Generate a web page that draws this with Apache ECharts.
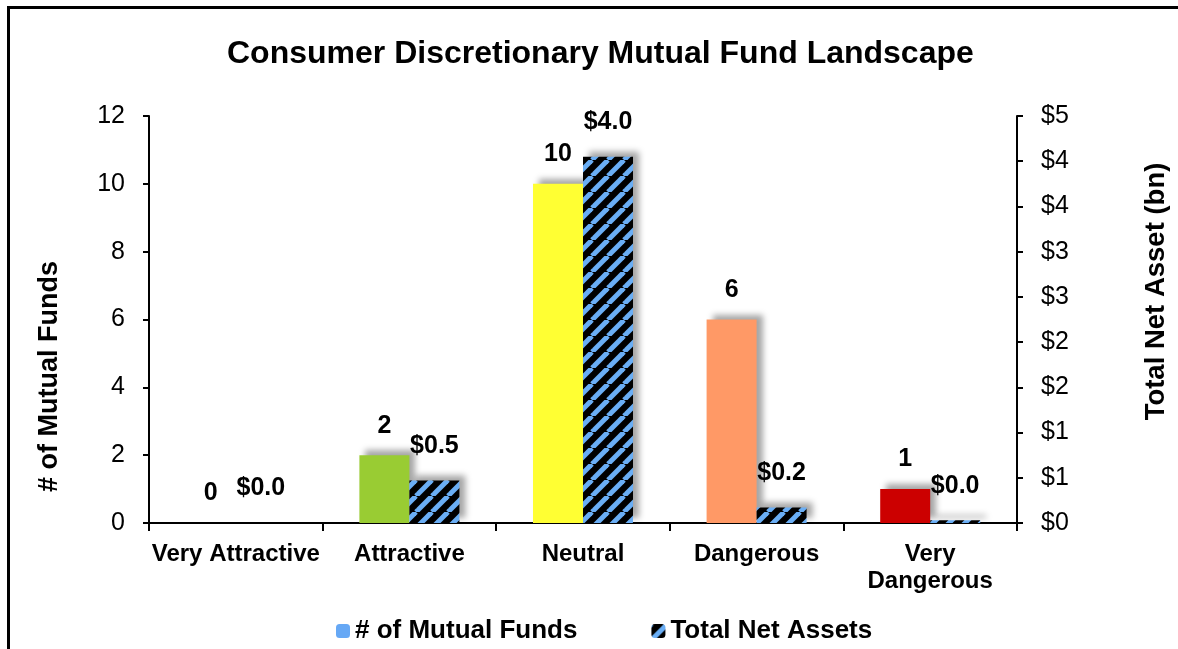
<!DOCTYPE html>
<html>
<head>
<meta charset="utf-8">
<script src="https://cdn.jsdelivr.net/npm/echarts@6/dist/echarts.min.js"></script>
<style>
html,body{margin:0;padding:0;background:#fff;}
#chart{width:1178px;height:649px;}
</style>
</head>
<body>
<div id="chart"></div>
<script>
const categories = ['Very Attractive', 'Attractive', 'Neutral', 'Dangerous', 'Very\nDangerous'];
const fundCounts = [0, 2, 10, 6, 1];
const netAssets = [0.0, 0.47, 4.05, 0.17, 0.03];
const barColors = ['#BFBFBF', '#99CC33', '#FFFF33', '#FF9966', '#CC0000'];
const seriesNames = ['# of Mutual Funds', 'Total Net Assets'];

const FONT = 'Arial, "Liberation Sans", sans-serif';

// striped pattern: black with blue diagonal stripes
function makePattern() {
  const s = 16;
  const c = document.createElement('canvas');
  c.width = s; c.height = s;
  const ctx = c.getContext('2d');
  ctx.fillStyle = '#000000';
  ctx.fillRect(0, 0, s, s);
  ctx.strokeStyle = '#6AAEF5';
  ctx.lineWidth = 5;
  for (let k = -s; k <= s; k += s) {
    ctx.beginPath();
    ctx.moveTo(k, s);
    ctx.lineTo(k + s, 0);
    ctx.stroke();
  }
  return c;
}
const stripe = { image: makePattern(), repeat: 'repeat' };

const chart = echarts.init(document.getElementById('chart'));
const shadow = {
  shadowBlur: 6,
  shadowColor: 'rgba(0,0,0,0.35)',
  shadowOffsetX: 6,
  shadowOffsetY: -5
};

chart.setOption({
  animation: false,
  backgroundColor: '#ffffff',
  graphic: [{
    type: 'rect',
    left: 6, top: 5,
    shape: { width: 1300, height: 800 },
    style: { fill: 'none', stroke: '#000', lineWidth: 3 },
    silent: true
  }],
  title: {
    text: 'Consumer Discretionary Mutual Fund Landscape',
    left: 222,
    top: 33,
    textStyle: { fontFamily: FONT, fontSize: 32, fontWeight: 'bold', color: '#000' }
  },
  legend: {
    bottom: 0,
    left: 331,
    itemWidth: 14,
    itemHeight: 14,
    itemGap: 74,
    textStyle: { fontFamily: FONT, fontSize: 26, fontWeight: 'bold', color: '#000' },
    data: seriesNames
  },
  grid: { left: 149, right: 154, top: 116, bottom: 126 },
  xAxis: {
    type: 'category',
    data: categories,
    axisLine: { lineStyle: { color: '#000', width: 2 } },
    axisTick: { show: true, alignWithLabel: false, length: 8, lineStyle: { color: '#000', width: 2 } },
    axisLabel: { fontFamily: FONT, fontSize: 24, fontWeight: 'bold', color: '#000', margin: 18, lineHeight: 27, interval: 0 }
  },
  yAxis: [{
    type: 'value',
    min: 0, max: 12, interval: 2,
    name: '# of Mutual Funds',
    nameLocation: 'middle',
    nameGap: 86,
    nameRotate: 90,
    nameTextStyle: { fontFamily: FONT, fontSize: 27, fontWeight: 'bold', color: '#000', padding: [0, 114, 0, 0] },
    axisLine: { show: true, lineStyle: { color: '#000', width: 2 } },
    axisTick: { show: true, length: 6, lineStyle: { color: '#000', width: 2 } },
    axisLabel: { fontFamily: FONT, fontSize: 25, color: '#000', margin: 24 },
    splitLine: { show: false }
  }, {
    type: 'value',
    min: 0, max: 4.5, interval: 0.5,
    position: 'right',
    name: 'Total Net Asset (bn)',
    nameLocation: 'middle',
    nameGap: 125,
    nameRotate: 90,
    nameTextStyle: { fontFamily: FONT, fontSize: 27.5, fontWeight: 'bold', color: '#000', padding: [0, 0, 0, 56] },
    axisLine: { show: true, lineStyle: { color: '#000', width: 2 } },
    axisTick: { show: true, length: 6, lineStyle: { color: '#000', width: 2 } },
    axisLabel: {
      fontFamily: FONT, fontSize: 25, color: '#000', margin: 24,
      formatter: v => '$' + Math.round(v)
    },
    splitLine: { show: false }
  }],
  series: [{
    name: seriesNames[0],
    type: 'bar',
    yAxisIndex: 0,
    barWidth: 50,
    barGap: '0%',
    itemStyle: Object.assign({ color: '#66A8F5' }, shadow),
    data: fundCounts.map((v, i) => ({ value: v, itemStyle: { color: barColors[i] } })),
    label: {
      show: true, position: 'top', distance: 17,
      fontFamily: FONT, fontSize: 25, fontWeight: 'bold', color: '#000'
    }
  }, {
    name: seriesNames[1],
    type: 'bar',
    yAxisIndex: 1,
    barWidth: 50,
    itemStyle: Object.assign({ color: stripe }, shadow),
    data: netAssets,
    label: {
      show: true, position: 'top', distance: 22,
      fontFamily: FONT, fontSize: 25, fontWeight: 'bold', color: '#000',
      formatter: p => '$' + p.value.toFixed(1)
    }
  }]
});
</script>
</body>
</html>
